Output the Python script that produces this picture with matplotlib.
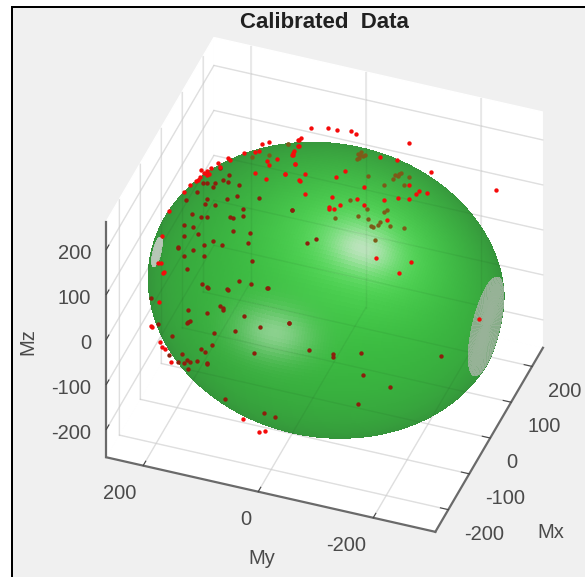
import numpy as np
import matplotlib
matplotlib.use("Agg")
import matplotlib.pyplot as plt
from matplotlib.patches import Rectangle

plt.rcParams['font.family'] = ['Liberation Sans', 'DejaVu Sans']
plt.rcParams['axes.unicode_minus'] = False
plt.rcParams['grid.color'] = '#ebebeb'
plt.rcParams['grid.linewidth'] = 1.0

# samples clear of the fitted surface or on its near side
front_x = [-32,-4,25,12,46,43,39,48,52,14,12,16,61,29,71,53,83,64,63,101,107,122,78,43,34,13,-2,17,4,-25,-25,-41,-38,-90,-129,-135,-150,-151,-168,-138,-138,-150,-154,-155,-165,-191,-197,-193,140,148,150,155,155,170,74,122,125,48,36,4,-25,-21,-38,-65,-12,10,105,147,150,162,-14,43,-59,-47,-54,-26,-5,7,28,42,49,-81,-85,-81,-70,-61,-129,-103,-129,-66]
front_y = [238,223,223,207,211,206,210,201,197,190,204,186,187,172,173,164,151,124,116,126,115,70,54,51,47,85,76,68,33,91,40,66,10,230,222,216,207,204,206,232,229,212,206,201,186,52,22,13,54,28,13,-9,-19,-105,52,69,67,51,49,33,40,6,8,-10,-45,-52,-78,-92,-151,-260,-93,-151,-54,-93,-108,-132,-150,-165,-168,-169,-180,-57,-59,-66,-73,-151,-157,-207,-197,-313]
front_z = [111,134,126,151,147,143,138,146,150,167,154,170,157,179,164,177,172,198,203,186,189,195,220,234,237,230,235,235,245,231,245,238,249,102,77,82,76,80,25,-60,-60,-80,-85,-88,-104,-173,-188,-186,211,212,210,210,207,200,223,194,196,233,236,245,245,250,249,247,251,249,213,177,164,147,246,221,248,245,241,236,230,223,218,214,206,243,242,242,244,226,198,183,176,57]

# samples seen through the surface
back_x = [94,124,85,92,110,111,121,130,147,81,63,106,105,120,137,149,172,195,155,154,139,142,82,99,108,67,83,89,65,137,153,108,93,117,146,48,48,73,54,86,136,49,59,63,106,115,125,84,-82,62,84,125,3,30,56,58,55,71,99,71,38,-8,-19,-13,-110,-79,10,-14,-39,-39,-159,-95,24,-150,-119,-94,-95,-73,-63,-60,-123,-134,-110,-108,195,196,189,99,73,80,75,92,82,54,33,-10]
back_y = [196,192,222,218,210,214,200,196,183,232,243,223,226,214,199,186,156,108,178,177,195,190,241,230,224,249,239,233,248,189,165,213,223,201,166,252,252,236,244,221,156,237,214,207,167,149,125,181,252,206,179,124,219,196,182,178,176,145,78,118,150,211,213,212,230,217,176,170,180,173,192,194,112,181,181,179,184,175,162,163,172,104,45,27,107,67,79,78,33,-5,-7,-50,-193,-68,-121,-81]
back_z = [117,80,83,80,68,56,69,58,41,63,57,31,20,9,13,15,0,-30,-18,-31,-26,-31,11,-5,-10,-3,-18,-35,-25,-54,-66,-61,-61,-73,-81,-38,-40,-59,-61,-79,-112,-84,-117,-125,-135,-143,-153,-140,-47,-126,-141,-153,-133,-153,-156,-159,-162,-178,-197,-195,-188,-145,-143,-144,-77,-125,-176,-183,-174,-180,-95,-145,-213,-115,-143,-159,-155,-172,-184,-184,-149,-189,-222,-227,-30,-84,-92,-197,-223,-226,-228,-220,-179,-234,-230,-244]

# the brownish ones, upper right
olive_x = [130,150,126,126,217,220,200,214,213,222,224,224,224,221,214,222,222,221,221,219,220,220,214,186,190,191,200,198,187,178,208,205,200,208]
olive_y = [154,132,90,90,-17,-44,-94,-61,-81,16,-12,-41,-47,2,40,-15,-36,-33,-53,-79,-21,-25,-29,-10,-13,-18,-3,-8,-22,-19,-67,-74,-81,-72]
olive_z = [126,121,176,176,64,48,98,71,65,-4,-16,-15,-8,-34,-43,-36,-37,-43,-40,-36,-49,-50,-73,136,131,129,110,115,135,149,87,94,103,86]

x_ticks = [-200, -100, 0, 100, 200]
y_ticks = [-200, 0, 200]
z_ticks = [-200, -100, 0, 100, 200]

ELEV, AZIM = 38.5, -160
XLIM, YLIM, ZLIM = (-262, 252), (-308, 264), (-262, 262)
CENTER = np.array([-20., -30.4, 2.])
RADII = np.array([245., 296., 250.])

fig = plt.figure(figsize=(5.85, 5.77), dpi=100, facecolor='#f0f0f0')
ax = fig.add_axes([0.0787, 0.0238, 0.9274, 0.9402], projection='3d', computed_zorder=False)
ax.set_proj_type('ortho')
ax.view_init(elev=ELEV, azim=AZIM)
ax.set_xlim(*XLIM)
ax.set_ylim(*YLIM)
ax.set_zlim(*ZLIM)
ax.set_box_aspect((514, 572, 492))
ax.patch.set_alpha(0)

el, az = np.radians(ELEV), np.radians(AZIM)
cam = np.array([np.cos(el)*np.cos(az), np.cos(el)*np.sin(az), np.sin(el)])
right = np.array([-np.sin(az), np.cos(az), 0.])
up = np.cross(cam, right)

# ellipsoid, cut at the My limits
t0 = np.arccos((YLIM[1] - CENTER[1]) / RADII[1])
t1 = np.arccos((YLIM[0] - CENTER[1]) / RADII[1])
T, P = np.meshgrid(np.linspace(t0, t1, 170), np.linspace(0, 2*np.pi, 220))
X = CENTER[0] + RADII[0]*np.sin(T)*np.cos(P)
Y = CENTER[1] + RADII[1]*np.cos(T)
Z = CENTER[2] + RADII[2]*np.sin(T)*np.sin(P)

Nx, Ny, Nz = (X-CENTER[0])/RADII[0]**2, (Y-CENTER[1])/RADII[1]**2, (Z-CENTER[2])/RADII[2]**2
nn = np.sqrt(Nx**2 + Ny**2 + Nz**2)
Nx, Ny, Nz = Nx/nn, Ny/nn, Nz/nn
nc = Nx*cam[0] + Ny*cam[1] + Nz*cam[2]
nr = Nx*right[0] + Ny*right[1] + Nz*right[2]
nu = Nx*up[0] + Ny*up[1] + Nz*up[2]

edge = np.array([52, 145, 58]) / 255
mid = np.array([58, 188, 64]) / 255
glow = np.array([88, 222, 92]) / 255
white = np.array([205, 228, 205]) / 255
rgb = edge + (mid - edge) * np.clip(nc, 0, 1)[..., None]**1.2

def lobe(cx, cy, w):
    return np.exp(-((nr-cx)**2 + (nu-cy)**2) / w**2) * (nc > 0)

rgb = rgb + (glow - rgb) * lobe(0.12, 0.34, 0.42)[..., None]
rgb = rgb + (white - rgb) * lobe(0.12, 0.34, 0.16)[..., None] * 0.85
rgb = rgb + (white - rgb) * lobe(-0.34, -0.26, 0.17)[..., None] * 0.55
rgba = np.dstack([rgb, np.ones(rgb.shape[:2])])
surf = ax.plot_surface(X, Y, Z, facecolors=rgba[:-1, :-1], rstride=1, cstride=1, shade=False,
                       linewidth=0.4, antialiased=False, zorder=1)
surf.set_edgecolor(surf._facecolor3d)

# wall grid faintly showing through the surface
for xt in x_ticks:
    ax.plot([xt, xt], [YLIM[1], YLIM[1]], ZLIM, color='black', alpha=0.05, lw=1, zorder=1.5)
    ax.plot([xt, xt], YLIM, [ZLIM[0], ZLIM[0]], color='black', alpha=0.05, lw=1, zorder=1.5)
for yt in y_ticks:
    ax.plot([XLIM[1], XLIM[1]], [yt, yt], ZLIM, color='black', alpha=0.05, lw=1, zorder=1.5)
    ax.plot(XLIM, [yt, yt], [ZLIM[0], ZLIM[0]], color='black', alpha=0.05, lw=1, zorder=1.5)
for zt in z_ticks:
    ax.plot([XLIM[1], XLIM[1]], YLIM, [zt, zt], color='black', alpha=0.05, lw=1, zorder=1.5)
    ax.plot(XLIM, [YLIM[1], YLIM[1]], [zt, zt], color='black', alpha=0.05, lw=1, zorder=1.5)

# flat caps where the limits cut it
for ylim, col in ((YLIM[0], (0.60, 0.70, 0.60, 0.85)), (YLIM[1], (0.72, 0.78, 0.72, 0.8))):
    f = np.sqrt(1 - ((ylim - CENTER[1]) / RADII[1])**2)
    rr, pp = np.meshgrid([0, 1], np.linspace(0, 2*np.pi, 60))
    ax.plot_surface(CENTER[0] + RADII[0]*f*rr*np.cos(pp), np.full(rr.shape, ylim),
                    CENTER[2] + RADII[2]*f*rr*np.sin(pp), color=col, shade=False,
                    linewidth=0, antialiased=False, rstride=1, cstride=1, zorder=2)

ax.scatter(back_x, back_y, back_z, s=10, c='#8c1f0c', depthshade=False, linewidths=0, zorder=3)
ax.scatter(olive_x, olive_y, olive_z, s=10, c='#7d5a18', depthshade=False, linewidths=0, zorder=3)
ax.scatter(front_x, front_y, front_z, s=10, c='#f50a0a', depthshade=False, linewidths=0, zorder=4)

ax.set_xticks(x_ticks)
ax.set_yticks(y_ticks)
ax.set_zticks(z_ticks)
for axis in (ax.xaxis, ax.yaxis, ax.zaxis):
    axis.set_pane_color('white')
    axis.pane.set_edgecolor('white')
    axis.line.set_color('#6a6a6a')
    axis.line.set_linewidth(1.6)
    axis._axinfo['tick'].update(inward_factor=0.0, outward_factor=0.3, color='#6a6a6a')
ax.tick_params(colors='#4a4a4a', labelsize=14.5)
ax.tick_params(axis='x', pad=2)
ax.tick_params(axis='y', pad=5.5)
ax.tick_params(axis='z', pad=-1)
plt.setp(ax.get_xticklabels(), ha='left')
plt.setp(ax.get_yticklabels(), ha='right', va='center')
plt.setp(ax.get_zticklabels(), ha='right', va='center')

lab = dict(fontsize=14.5, color='#4a4a4a', ha='center', va='center')
fig.text(551/585, 1 - 533/577, 'Mx', **lab)
fig.text(262/585, 1 - 559/577, 'My', **lab)
fig.text(28/585, 1 - 342/577, 'Mz', rotation=90, **lab)
fig.text(324.5/585, 1 - 22/577, 'Calibrated  Data', fontsize=16, fontweight='bold',
         color='#202020', ha='center', va='center')

# screenshot frame
fig.add_artist(Rectangle((0, 0), 11/585, 1, transform=fig.transFigure, fc='white', ec='none', zorder=10))
fig.add_artist(Rectangle((0, 1 - 6/577), 1, 6/577, transform=fig.transFigure, fc='white', ec='none', zorder=10))
fig.add_artist(Rectangle((11/585, 0), 2/585, 1 - 6/577, transform=fig.transFigure, fc='black', ec='none', zorder=11))
fig.add_artist(Rectangle((11/585, 1 - 8/577), 1, 2/577, transform=fig.transFigure, fc='black', ec='none', zorder=11))

fig.savefig("out.png", facecolor=fig.get_facecolor())
